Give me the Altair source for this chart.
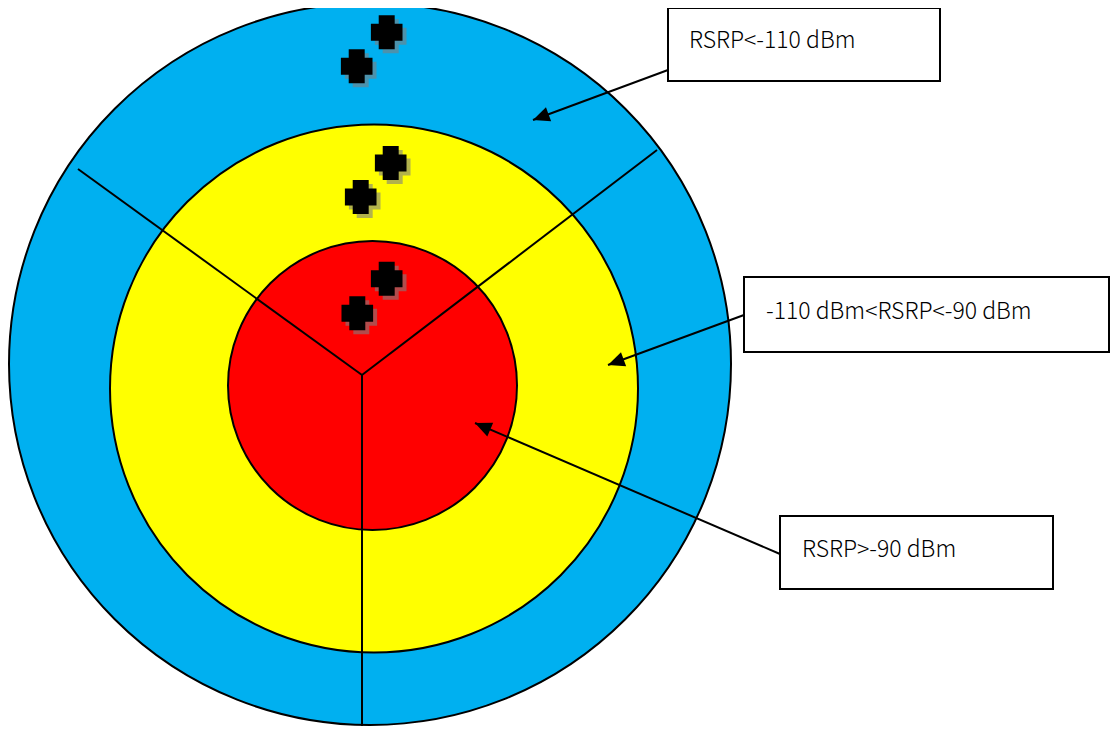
import math
import altair as alt
import pandas as pd

# ---- data (pixel coordinates of the diagram) ----
ring_names = ["outer", "middle", "inner"]
ring_cx = [370, 374, 372.5]
ring_cy = [364, 388.5, 385.5]
ring_r = [361, 264, 144.5]
ring_colors = ["#00B0F0", "#FFFF00", "#FF0000"]

hub_x, hub_y = 362, 375
spoke_x = [78, 657, 362]
spoke_y = [169, 150, 734]

marker_x = [386.7, 356.7, 390.7, 360.7, 386.7, 357.3]
marker_y = [32.2, 66.3, 163, 197, 278.7, 313.3]

box_labels = ["RSRP<-110 dBm", "-110 dBm<RSRP<-90 dBm", "RSRP>-90 dBm"]
box_x1 = [668, 744, 780]
box_x2 = [940, 1109, 1053]
box_y1 = [8, 277, 516]
box_y2 = [81, 352, 589]
label_x = [689, 766, 802]
label_y = [48, 319, 557]

arrow_x1 = [668, 744, 780]
arrow_y1 = [70, 315, 554]
arrow_x2 = [533, 608, 475]
arrow_y2 = [120, 365, 423]

# ---- tables ----
rings = pd.DataFrame({"ring": ring_names, "cx": ring_cx, "cy": ring_cy, "r": ring_r})
rings["area"] = 4 * rings["r"] ** 2  # vega circle symbol: diameter = sqrt(size)

spokes = pd.DataFrame({"x": [hub_x] * 3, "y": [hub_y] * 3, "x2": spoke_x, "y2": spoke_y})
markers = pd.DataFrame({"x": marker_x, "y": marker_y})
boxes = pd.DataFrame({"label": box_labels, "x1": box_x1, "x2": box_x2, "y1": box_y1,
                      "y2": box_y2, "lx": label_x, "ly": label_y})
arrows = pd.DataFrame({"x": arrow_x1, "y": arrow_y1, "x2": arrow_x2, "y2": arrow_y2})
arrows["angle"] = [
    (math.degrees(math.atan2(bx - ax, -(by - ay))) + 360) % 360
    for ax, ay, bx, by in zip(arrow_x1, arrow_y1, arrow_x2, arrow_y2)
]

W, H = 1102, 718
XS = alt.Scale(domain=[8, 8 + W], nice=False, zero=False)
YS = alt.Scale(domain=[8, 8 + H], reverse=True, nice=False, zero=False)


def X(f):
    return alt.X(f, type="quantitative", scale=XS, axis=None)


def Y(f):
    return alt.Y(f, type="quantitative", scale=YS, axis=None)


ring_layer = alt.Chart(rings).mark_point(
    shape="circle", filled=True, stroke="black", strokeWidth=2, opacity=1, fillOpacity=1
).encode(
    x=X("cx"), y=Y("cy"),
    fill=alt.Fill("ring:N", scale=alt.Scale(domain=ring_names, range=ring_colors), legend=None),
    size=alt.Size("area:Q", scale=None, legend=None),
)

spoke_layer = alt.Chart(spokes).mark_rule(color="black", strokeWidth=2).encode(
    x=X("x"), y=Y("y"), x2="x2:Q", y2="y2:Q"
)

plus_path = ("M-0.47,-1 L0.47,-1 L0.47,-0.5 L0.93,-0.5 L0.93,0.5 L0.47,0.5 "
             "L0.47,1 L-0.47,1 L-0.47,0.5 L-0.93,0.5 L-0.93,-0.5 L-0.47,-0.5 Z")

shadow_layer = alt.Chart(markers).mark_point(
    shape=plus_path, filled=True, fill="#7f7f7f", opacity=0.6, strokeWidth=0,
    size=1156, xOffset=4, yOffset=4
).encode(x=X("x"), y=Y("y"))

marker_layer = alt.Chart(markers).mark_point(
    shape=plus_path, filled=True, fill="black", opacity=1, strokeWidth=0, size=1156
).encode(x=X("x"), y=Y("y"))

arrow_line = alt.Chart(arrows).mark_rule(color="black", strokeWidth=2).encode(
    x=X("x"), y=Y("y"), x2="x2:Q", y2="y2:Q"
)

arrow_head = alt.Chart(arrows).mark_point(
    shape="M0,0 L0.45,1 L-0.45,1 Z", filled=True, fill="black", opacity=1,
    strokeWidth=0, size=1100
).encode(x=X("x2"), y=Y("y2"), angle=alt.Angle("angle:Q", scale=None))

box_layer = alt.Chart(boxes).mark_rect(fill="white", stroke="black", strokeWidth=2).encode(
    x=X("x1"), x2="x2:Q", y=Y("y1"), y2="y2:Q"
)

text_layer = alt.Chart(boxes).mark_text(
    align="left", baseline="alphabetic", font="Noto Sans CJK KR", fontSize=23,
    fontWeight=300, color="black"
).encode(x=X("lx"), y=Y("ly"), text="label:N")

chart = alt.layer(
    ring_layer, spoke_layer, shadow_layer, marker_layer, arrow_line, box_layer,
    text_layer, arrow_head
).properties(
    width=W, height=H, autosize=alt.AutoSizeParams(type="none"), padding=0
).configure_view(stroke=None)

chart.save("out.html", embed_options={"renderer": "svg", "actions": False})
